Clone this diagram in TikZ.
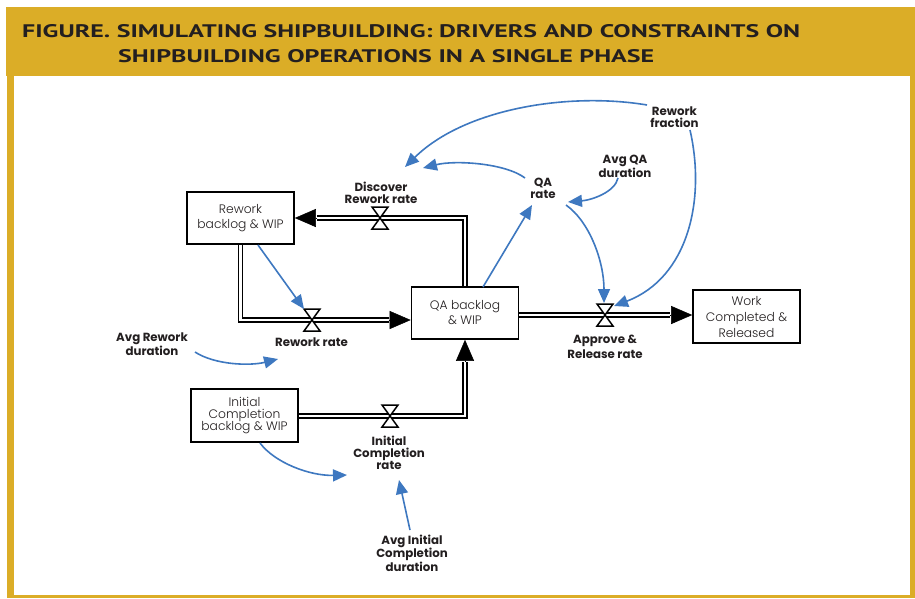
\documentclass[tikz,border=0pt]{standalone}
\usepackage{fontspec}
\setmainfont{Poppins}
\newfontfamily\titlefont{PT Sans}
\newfontfamily\boxfont{Poppins Light}
\usetikzlibrary{arrows.meta,calc}
\definecolor{gold}{RGB}{219,173,39}
\definecolor{ink}{RGB}{35,31,32}
\definecolor{linkblue}{RGB}{62,120,192}
\pgfdeclarelayer{under}
\pgfsetlayers{under,main}
% hourglass valve on a flow pipe
\newcommand\flowvalve[1]{%
  \draw[valve] ($(#1)+(-8,-11)$) -- ($(#1)+(8,-11)$) -- ($(#1)+(-8,11)$) -- ($(#1)+(8,11)$) -- cycle;}
\begin{document}
\begin{tikzpicture}[x=1pt,y=-1pt,
  stock/.style={draw=black, line width=1.6pt, fill=white, minimum width=107pt,
    minimum height=52pt, inner sep=0pt, align=center, text=ink},
  lbl/.style={align=center, inner sep=0pt, text=ink,
    font=\bfseries\fontsize{11.8}{12}\selectfont},
  pipe/.style={draw=black, line width=1.4pt, double=white, double distance=2.4pt},
  pipehead/.style={-{Triangle[length=21pt,width=18pt]}, line width=0.5pt, draw=black},
  valve/.style={draw=black, line width=1.5pt, fill=white, line join=miter},
  link/.style={draw=linkblue, line width=1.6pt, -{Triangle[length=14pt,width=12pt]}}
]
\useasboundingbox (0,0) rectangle (915,598);

% frame
\begin{pgfonlayer}{under}
\fill[white] (0,0) rectangle (915,598);
\fill[gold] (6,7) rectangle (915,76);
\fill[gold] (7,76) rectangle (14,598);
\fill[gold] (7,595) rectangle (915,598);
\fill[gold] (910,76) rectangle (915,598);
\end{pgfonlayer}

% title
\node[anchor=south west, inner sep=0pt, text=ink] (t1) at (22,38)
  {\resizebox{778pt}{13pt}{\titlefont\bfseries FIGURE. SIMULATING SHIPBUILDING: DRIVERS AND CONSTRAINTS ON}};
\node[anchor=south west, inner sep=0pt, text=ink] (t2) at (118,63)
  {\resizebox{536pt}{13pt}{\titlefont\bfseries SHIPBUILDING OPERATIONS IN A SINGLE PHASE}};

% stocks
\node[stock, font=\boxfont\fontsize{12.3}{15}\selectfont] (rework) at (240.5,218) {Rework\\backlog \& WIP};
\node[stock, font=\boxfont\fontsize{12.3}{15}\selectfont] (qa) at (465,313) {QA backlog\\\& WIP};
\node[stock, minimum height=53pt, font=\boxfont\fontsize{12.3}{16}\selectfont] (work) at (746.5,316.5) {Work\\Completed \&\\Released};
\node[stock, minimum height=53pt, font=\boxfont\fontsize{12.3}{12.3}\selectfont] (init) at (244.5,415.5) {Initial\\Completion\\backlog \& WIP};

% valve positions
\coordinate (vDisc) at (380,218);
\coordinate (vRew) at (312,320);
\coordinate (vApp) at (605,315);
\coordinate (vInit) at (390,416);

% flow pipes
\begin{pgfonlayer}{under}
\draw[pipe] (qa.north) |- ($(rework.east)+(22,0)$);
\draw[pipehead] ($(rework.east)+(22,0)$) -- (rework.east);
\draw[pipe] (rework.south) |- ($(qa.west |- vRew)+(-22,0)$);
\draw[pipehead] ($(qa.west |- vRew)+(-22,0)$) -- (qa.west |- vRew);
\draw[pipe] (qa.east |- vApp) -- ($(work.west |- vApp)+(-22,0)$);
\draw[pipehead] ($(work.west |- vApp)+(-22,0)$) -- (work.west |- vApp);
\draw[pipe] (init.east |- vInit) -| ($(qa.south)+(0,22)$);
\draw[pipehead] ($(qa.south)+(0,22)$) -- (qa.south);
\end{pgfonlayer}

\flowvalve{vDisc}
\flowvalve{vRew}
\flowvalve{vApp}
\flowvalve{vInit}

% labels
\node[lbl] (lDisc) at (381,192.5) {Discover\\Rework rate};
\node[lbl] (lRew) at (311.5,342) {Rework rate};
\node[lbl, font=\bfseries\fontsize{11.8}{15}\selectfont] (lApp) at (605,347) {Approve \&\\Release rate};
\node[lbl] (lInit) at (389,453) {Initial\\Completion\\rate};
\node[lbl] (lAvgInit) at (412,553) {Avg Initial\\Completion\\duration};
\node[lbl] (lAvgRew) at (152,344.5) {Avg Rework\\duration};
\node[lbl] (lFrac) at (674.5,117.5) {Rework\\fraction};
\node[lbl] (lAvgQA) at (625,166) {Avg QA\\duration};
\node[lbl] (lQA) at (543,188) {QA\\rate};

% information links
\coordinate (fracA) at (647,105);
\coordinate (fracB) at (690,130);
\coordinate (discTipA) at (405,167);
\coordinate (discTipB) at (423,168);
\coordinate (qaOutL) at (525,178);
\coordinate (qaOutR) at (566,205);
\coordinate (qaInA) at (568,202);
\coordinate (qaInB) at (532,205);
\coordinate (avgQAout) at (618,178);
\coordinate (qaBoxOut) at (483,287);
\coordinate (appTipA) at (604,303);
\coordinate (appTipB) at (614,306);
\coordinate (rewBoxOut) at (258,245);
\coordinate (rewTip) at (304,309);
\coordinate (avgRewOut) at (195,352);
\coordinate (rewTip2) at (278,359);
\coordinate (initBoxOut) at (260,443);
\coordinate (initTip) at (347,475);
\coordinate (avgInitOut) at (410,530);
\coordinate (initTip2) at (399,480);

\draw[link] (fracA) .. controls (570,92) and (465,108) .. (discTipA);
\draw[link] (qaOutL) .. controls (505,163) and (455,160) .. (discTipB);
\draw[link] (avgQAout) .. controls (615,192) and (592,200) .. (qaInA);
\draw[link] (qaBoxOut) -- (qaInB);
\draw[link] (qaOutR) .. controls (590,222) and (604,262) .. (appTipA);
\draw[link] (fracB) .. controls (706,200) and (688,278) .. (appTipB);
\draw[link] (rewBoxOut) -- (rewTip);
\draw[link] (avgRewOut) .. controls (215,365) and (250,366) .. (rewTip2);
\draw[link] (initBoxOut) .. controls (275,463) and (310,476) .. (initTip);
\draw[link] (avgInitOut) -- (initTip2);
\end{tikzpicture}
\end{document}
